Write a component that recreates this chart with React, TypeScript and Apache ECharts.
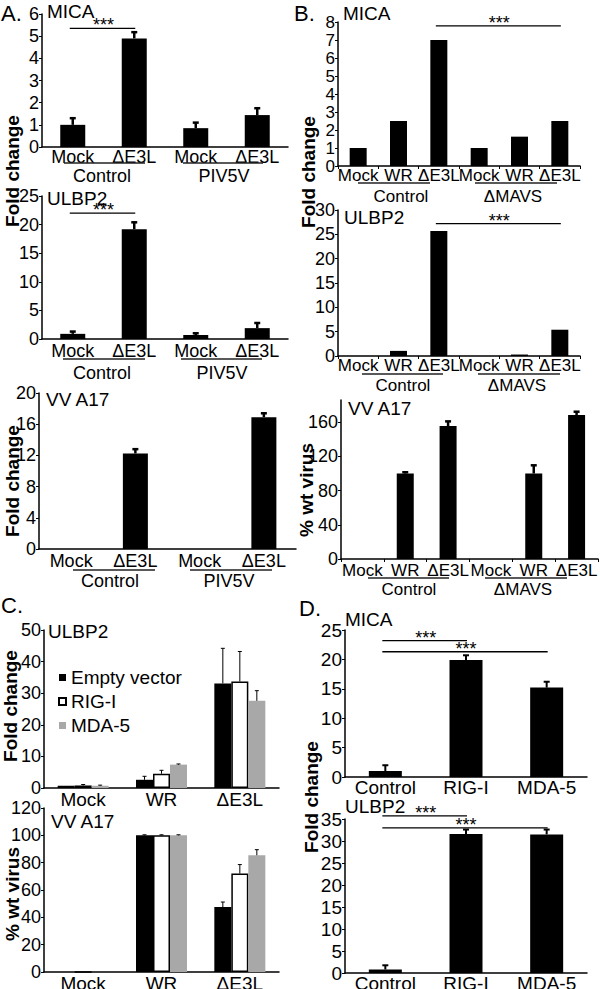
import React, { useEffect, useRef } from "react";
import * as echarts from "echarts";

const FONT = "'Liberation Sans', Arial, Helvetica, sans-serif";

// ---------------- data ----------------
// Panel A
const aCategories = ["Mock", "ΔE3L", "Mock", "ΔE3L"];
const aGroups = ["Control", "PIV5V"];
const aMicaValues = [1.0, 4.9, 0.85, 1.44];
const aMicaErrTop = [1.3, 5.18, 1.1, 1.75];
const aUlbp2Values = [0.9, 19.2, 0.7, 1.9];
const aUlbp2ErrTop = [1.3, 20.4, 1.0, 2.8];
const aA17Values = [0, 12.25, 0, 16.9];
const aA17ErrTop = [null, 12.8, null, 17.4];
const aMicaSig = [[0, 1, 5.35]];
const aUlbp2Sig = [[0, 1, 22]];

// Panel B
const bCategories = ["Mock", "WR", "ΔE3L", "Mock", "WR", "ΔE3L"];
const bGroups = ["Control", "ΔMAVS"];
const bMicaValues = [1.0, 2.5, 7.0, 1.0, 1.63, 2.5];
const bUlbp2Values = [0, 1.05, 25.7, 0, 0.3, 5.4];
const bA17Values = [0, 100, 155.5, 0, 100, 168.4];
const bA17ErrTop = [null, 101.5, 161, null, 109.6, 172.3];
const bMicaSig = [[2, 5, 7.78]];
const bUlbp2Sig = [[2, 5, 27.2]];

// Panel C
const cCategories = ["Mock", "WR", "ΔE3L"];
const cSeriesNames = ["Empty vector", "RIG-I", "MDA-5"];
const cUlbp2Empty = [0.7, 2.6, 33.1];
const cUlbp2Rig = [0.8, 4.5, 33.7];
const cUlbp2Mda = [0.7, 7.4, 27.6];
const cUlbp2EmptyErr = [null, 3.7, 44.2];
const cUlbp2RigErr = [1.1, 5.6, 43.2];
const cUlbp2MdaErr = [0.9, 7.6, 30.8];
const cA17Empty = [0, 100, 47.5];
const cA17Rig = [0, 100, 72];
const cA17Mda = [0, 100, 85.4];
const cA17EmptyErr = [null, 100.4, 51.2];
const cA17RigErr = [null, 100.4, 78.6];
const cA17MdaErr = [null, 100.4, 89.5];

// Panel D
const dCategories = ["Control", "RIG-I", "MDA-5"];
const dMicaValues = [1.0, 19.9, 15.2];
const dMicaErrTop = [2.0, 20.7, 16.2];
const dUlbp2Values = [0.8, 31.6, 31.5];
const dUlbp2ErrTop = [1.75, 32.6, 32.6];
const dMicaSig = [[0, 1, 23.2], [0, 2, 21.3]];
const dUlbp2Sig = [[0, 1, 35.7], [0, 2, 33.0]];

// y-axis tick labels
const aMicaTicks = [0, 1, 2, 3, 4, 5, 6];
const aUlbp2Ticks = [0, 5, 10, 15, 20, 25];
const aA17Ticks = [0, 4, 8, 12, 16, 20];
const bMicaTicks = [0, 1, 2, 3, 4, 5, 6, 7, 8];
const bUlbp2Ticks = [0, 5, 10, 15, 20, 25, 30];
const bA17Ticks = [0, 40, 80, 120, 160];
const cUlbp2Ticks = [0, 10, 20, 30, 40, 50];
const cA17Ticks = [0, 20, 40, 60, 80, 100, 120];
const dMicaTicks = [0, 5, 10, 15, 20, 25];
const dUlbp2Ticks = [0, 5, 10, 15, 20, 25, 30, 35];

// ---------------- layout ----------------
type G = { l: number; t: number; r: number; b: number };

function xAxis(cats: string[], fontSize: number, margin: number, ticks = false) {
  return {
    type: "category", data: cats,
    axisLine: { show: true, lineStyle: { color: "#000", width: 1.5 } },
    axisTick: { show: ticks, length: 3, lineStyle: { color: "#000", width: 1 } },
    axisLabel: { interval: 0, color: "#000", fontSize, fontFamily: FONT, margin, hideOverlap: false },
    splitLine: { show: false },
  };
}

function yAxis(ticks: number[], max: number) {
  return {
    type: "value", min: 0, max,
    axisLine: { show: true, lineStyle: { color: "#000", width: 1.5 } },
    axisTick: { show: true, length: 3, lineStyle: { color: "#000", width: 1 }, customValues: ticks },
    axisLabel: { show: false, customValues: ticks },
    splitLine: { show: false },
  };
}

// tick labels of the value axis, placed through the axis scale
function yLabels(ticks: number[], fontSize: number) {
  return {
    type: "custom", silent: true, z: 5, clip: false,
    data: ticks.map((v) => [0, v]),
    encode: { x: 0, y: 1 },
    renderItem: (params: any, api: any) => {
      const p = api.coord([0, api.value(1)]);
      const x = params.coordSys.x - 3;
      return {
        type: "text", x, y: p[1],
        style: {
          text: String(api.value(1)), fill: "#000", font: `${fontSize}px ${FONT}`,
          textAlign: "right", textVerticalAlign: "middle", align: "right", verticalAlign: "middle",
        },
      };
    },
  };
}

function bars(data: number[], width: number, name?: string, itemStyle: any = { color: "#000" }) {
  return { type: "bar", name, data, barWidth: width, barGap: "0%", itemStyle, silent: true, z: 2 };
}

function errBars(vals: number[], errs: (number | null)[], offset = 0, lw = 2, cap = 3) {
  const data = vals.map((v, k) => [k, v, errs[k]]).filter((d) => d[2] != null);
  return {
    type: "custom", silent: true, z: 3, data,
    encode: { x: 0, y: [1, 2] },
    renderItem: (_p: any, api: any) => {
      const c = api.value(0), v = api.value(1), e = api.value(2);
      const p0 = api.coord([c, v]);
      const p1 = api.coord([c, e]);
      const x = p0[0] + offset;
      return {
        type: "group",
        children: [
          { type: "line", shape: { x1: x, y1: p0[1], x2: x, y2: p1[1] }, style: { stroke: "#000", lineWidth: lw } },
          { type: "line", shape: { x1: x - cap, y1: p1[1], x2: x + cap, y2: p1[1] }, style: { stroke: "#000", lineWidth: lw } },
        ],
      };
    },
  };
}

function sig(sigs: number[][]) {
  return {
    type: "custom", silent: true, z: 4, data: sigs, clip: false,
    encode: { x: [0, 1], y: 2 },
    renderItem: (_p: any, api: any) => {
      const a = api.coord([api.value(0), api.value(2)]);
      const b = api.coord([api.value(1), api.value(2)]);
      return {
        type: "group",
        children: [
          { type: "line", shape: { x1: a[0] - 3, y1: a[1], x2: b[0] + 1, y2: a[1] }, style: { stroke: "#000", lineWidth: 1.3 } },
          {
            type: "text", x: (a[0] + b[0]) / 2, y: a[1] - 3,
            style: { text: "***", fill: "#000", font: `18px ${FONT}`, textAlign: "center", textVerticalAlign: "middle", align: "center", verticalAlign: "middle" },
          },
        ],
      };
    },
  };
}

function txt(text: string, x: number, y: number, size: number, align = "left", bold = false, rotate = 0) {
  return {
    type: "text", x, y, rotation: rotate, silent: true,
    style: {
      text, fill: "#000", font: `${bold ? "bold " : ""}${size}px ${FONT}`,
      textAlign: align, textVerticalAlign: "middle", align, verticalAlign: "middle",
    },
  };
}

function uline(x1: number, x2: number, y: number) {
  return { type: "line", silent: true, shape: { x1, y1: y, x2, y2: y }, style: { stroke: "#222", lineWidth: 1.3 } };
}

const white = { color: "#fff", borderColor: "#000", borderWidth: 1.5 };
const gray = { color: "#a8a8a8" };
const black = { color: "#000" };

type Panel = { g: G; x: any; y: any; series: any[]; legend?: any };

const PANELS: Panel[] = [
  { g: { l: 42, t: 14, r: 288, b: 147 }, x: xAxis(aCategories, 18, 1), y: yAxis(aMicaTicks, 6),
    series: [bars(aMicaValues, 25), errBars(aMicaValues, aMicaErrTop, 0, 2.5), sig(aMicaSig), yLabels(aMicaTicks, 18)] },
  { g: { l: 42, t: 196, r: 288, b: 339 }, x: xAxis(aCategories, 18, 3), y: yAxis(aUlbp2Ticks, 25),
    series: [bars(aUlbp2Values, 25), errBars(aUlbp2Values, aUlbp2ErrTop, 0, 2.5), sig(aUlbp2Sig), yLabels(aUlbp2Ticks, 18)] },
  { g: { l: 39, t: 393, r: 296, b: 549 }, x: xAxis(aCategories, 18, 3), y: yAxis(aA17Ticks, 20),
    series: [bars(aA17Values, 25), errBars(aA17Values, aA17ErrTop, 0, 2.5), yLabels(aA17Ticks.slice(0, -1), 18)] },
  { g: { l: 338, t: 22, r: 580, b: 166 }, x: xAxis(bCategories, 17, 1, true), y: yAxis(bMicaTicks, 8),
    series: [bars(bMicaValues, 17), sig(bMicaSig), yLabels(bMicaTicks, 17)] },
  { g: { l: 338, t: 210, r: 580, b: 356 }, x: xAxis(bCategories, 17, 1, true), y: yAxis(bUlbp2Ticks, 30),
    series: [bars(bUlbp2Values, 17), sig(bUlbp2Sig), yLabels(bUlbp2Ticks, 18)] },
  { g: { l: 341, t: 400, r: 598, b: 559 }, x: xAxis(bCategories, 17, 3, true), y: yAxis(bA17Ticks, 186),
    series: [bars(bA17Values, 17), errBars(bA17Values, bA17ErrTop, 0, 2.5), yLabels(bA17Ticks, 18)] },
  { g: { l: 44, t: 630, r: 279, b: 788 }, x: xAxis(cCategories, 19, 2), y: yAxis(cUlbp2Ticks, 50),
    series: [
      bars(cUlbp2Empty, 17, cSeriesNames[0], black),
      bars(cUlbp2Rig, 17, cSeriesNames[1], white),
      bars(cUlbp2Mda, 17, cSeriesNames[2], gray),
      errBars(cUlbp2Empty, cUlbp2EmptyErr, -17, 1, 2),
      errBars(cUlbp2Rig, cUlbp2RigErr, 0, 1, 2),
      errBars(cUlbp2Mda, cUlbp2MdaErr, 17, 1, 2),
      yLabels(cUlbp2Ticks, 18),
    ],
    legend: {
      data: cSeriesNames, orient: "vertical", left: 58, top: 668, padding: 0,
      itemWidth: 7, itemHeight: 7, itemGap: 5, icon: "rect", selectedMode: false,
      textStyle: { fontSize: 19, color: "#000", fontFamily: FONT },
    } },
  { g: { l: 44, t: 808, r: 279, b: 972 }, x: xAxis(cCategories, 19, 2), y: yAxis(cA17Ticks, 120),
    series: [
      bars(cA17Empty, 17, cSeriesNames[0], black),
      bars(cA17Rig, 17, cSeriesNames[1], white),
      bars(cA17Mda, 17, cSeriesNames[2], gray),
      errBars(cA17Empty, cA17EmptyErr, -17, 1, 2),
      errBars(cA17Rig, cA17RigErr, 0, 1, 2),
      errBars(cA17Mda, cA17MdaErr, 17, 1, 2),
      yLabels(cA17Ticks.slice(0, -1), 18),
    ] },
  { g: { l: 345, t: 630, r: 587, b: 777 }, x: xAxis(dCategories, 19, 1), y: yAxis(dMicaTicks, 25),
    series: [bars(dMicaValues, 33), errBars(dMicaValues, dMicaErrTop, 0, 2, 3), sig(dMicaSig), yLabels(dMicaTicks, 19)] },
  { g: { l: 345, t: 819, r: 587, b: 973 }, x: xAxis(dCategories, 19, 1), y: yAxis(dUlbp2Ticks, 35),
    series: [bars(dUlbp2Values, 33), errBars(dUlbp2Values, dUlbp2ErrTop, 0, 2, 3), sig(dUlbp2Sig), yLabels(dUlbp2Ticks, 19)] },
];

const R = Math.PI / 2;
const GRAPHIC: any[] = [
  // panel letters
  txt("A.", 1, 13, 22), txt("B.", 294, 13, 22), txt("C.", 1, 605, 22), txt("D.", 299, 608, 22),
  // titles
  txt("MICA", 47, 11, 19), txt("ULBP2", 47, 198, 19), txt("VV A17", 46, 399, 19),
  txt("MICA", 343, 13, 19), txt("ULBP2", 344, 217, 19), txt("VV A17", 348, 408, 19),
  txt("ULBP2", 48, 631, 19), txt("VV A17", 51, 821, 19),
  txt("MICA", 345, 619, 19), txt("ULBP2", 345, 806, 19),
  // top tick labels of the two VV A17 panels (A and C), at the axis top
  txt(String(aA17Ticks[aA17Ticks.length - 1]), 36, 393, 18, "right"),
  txt(String(cA17Ticks[cA17Ticks.length - 1]), 41, 808, 18, "right"),
  // y-axis names
  txt("Fold change", 12, 171, 19, "center", true, R),
  txt("Fold change", 12, 481, 19, "center", true, R),
  txt("Fold change", 308, 172, 19, "center", true, R),
  txt("% wt virus", 306, 490, 19, "center", true, R),
  txt("Fold change", 10, 706, 19, "center", true, R),
  txt("% wt virus", 12, 894, 19, "center", true, R),
  txt("Fold change", 311, 797, 19, "center", true, R),
  // group underlines + labels, panel A
  uline(64, 145, 163), uline(183, 263, 163),
  txt(aGroups[0], 102, 176, 18, "center"), txt(aGroups[1], 224, 176, 18, "center"),
  uline(63, 145, 359), uline(181, 262, 359),
  txt(aGroups[0], 102, 373, 18, "center"), txt(aGroups[1], 222, 373, 18, "center"),
  uline(73, 155, 570), uline(190, 272, 570),
  txt(aGroups[0], 110, 581, 18, "center"), txt(aGroups[1], 229, 581, 18, "center"),
  // panel B
  uline(358, 430, 183), uline(475, 557, 183),
  txt(bGroups[0], 401, 196, 17, "center"), txt(bGroups[1], 513, 196, 17, "center"),
  uline(362, 443, 374), uline(478, 560, 374),
  txt(bGroups[0], 403, 385, 17, "center"), txt(bGroups[1], 517, 385, 17, "center"),
  uline(368, 449, 578), uline(485, 567, 578),
  txt(bGroups[0], 409, 589, 17, "center"), txt(bGroups[1], 523, 589, 17, "center"),
];

const layerStyle: React.CSSProperties = { position: "absolute", left: 0, top: 0, width: 600, height: 989 };

export default function App() {
  const refs = useRef<(HTMLDivElement | null)[]>([]);
  useEffect(() => {
    const charts: echarts.ECharts[] = [];
    PANELS.forEach((p, i) => {
      const el = refs.current[i];
      if (!el) return;
      const chart = echarts.init(el, null, { renderer: "svg" });
      const series = p.series.map((s) => ({ ...s, xAxisIndex: 0, yAxisIndex: 0 }));
      const opt: any = {
        animation: false,
        backgroundColor: "transparent",
        textStyle: { fontFamily: FONT },
        grid: { left: p.g.l, top: p.g.t, width: p.g.r - p.g.l, height: p.g.b - p.g.t, containLabel: false, outerBoundsMode: "none" },
        xAxis: p.x,
        yAxis: p.y,
        series,
      };
      if (p.legend) opt.legend = p.legend;
      chart.setOption(opt);
      charts.push(chart);
    });
    const gEl = refs.current[PANELS.length];
    if (gEl) {
      const chart = echarts.init(gEl, null, { renderer: "svg" });
      chart.setOption({ animation: false, backgroundColor: "transparent", graphic: GRAPHIC });
      charts.push(chart);
    }
    return () => charts.forEach((c) => c.dispose());
  }, []);
  return (
    <div style={{ ...layerStyle, background: "#fff" }}>
      {PANELS.map((_, i) => (
        <div key={i} ref={(el) => { refs.current[i] = el; }} style={layerStyle} />
      ))}
      <div ref={(el) => { refs.current[PANELS.length] = el; }} style={{ ...layerStyle, pointerEvents: "none" }} />
    </div>
  );
}
